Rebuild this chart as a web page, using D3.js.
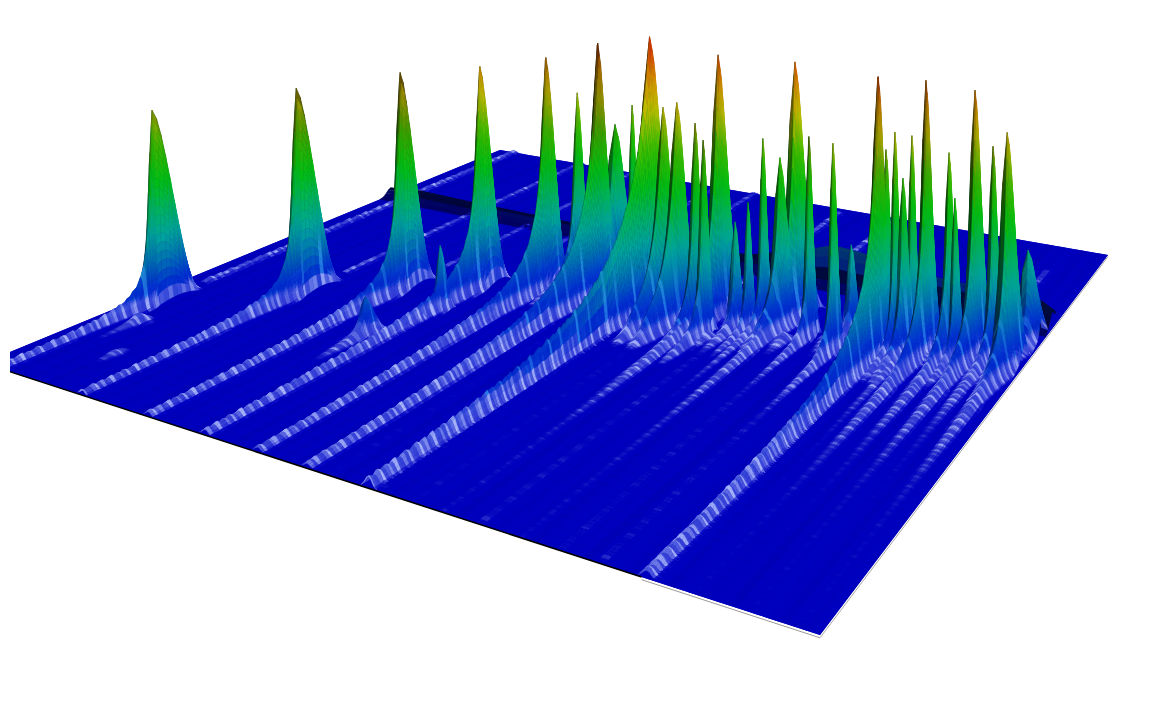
<!DOCTYPE html>
<html><head><meta charset="utf-8">
<style>html,body{margin:0;padding:0;background:#fff}svg{display:block}</style>
<script src="https://cdn.jsdelivr.net/npm/d3@7"></script></head><body>
<svg id="c" width="1158" height="708"></svg>
<script>
// Peaks: first-dimension position, second-dimension position, intensity, front tailing, back fall-off, width, ridge level, tone at the crest
const peakU    =[.03,.16,.259,.339,.41,.473,.548,.634,.72,.845,.89,.94,.982, .43,.46,.50,.58,.60,.63,.65,.70,.69,.675,.715,.76,.80,.80,.85,.86,.875,.87,.915,.925,.96,.985,.313,.342,.0577,.108, .786,.74,.70,.66,.83,.90,.95,.975];
const peakV    =[.215,.328,.409,.469,.513,.536,.537,.553,.589,.539,.573,.597,.58, .556,.601,.576,.512,.51,.50,.482,.54,.52,.516,.556,.538,.514,.57,.551,.553,.568,.552,.58,.57,.6,.655,.2763,.382,.1666,.089, .533,.51,.50,.47,.52,.55,.58,.59];
const peakZ    =[215,233,247,252,262,281,292,281,276,282,277,268,233, 216,174,206,225,233,216,204,200,135,113,178,210,213,94,205,224,219,178,204,161,212,95,40,71,10,4, 9,9,8,8,9,8,8,8];
const peakTail =[.003,.004,.006,.009,.012,.022,.05,.012,.012,.022,.012,.012,.012, .006,.015,.003,.02,.02,.006,.004,.003,.003,.003,.012,.003,.004,.003,.006,.004,.004,.006,.01,.004,.006,.006,.006,.004,.01,.01, .01,.01,.01,.01,.01,.01,.01,.01];
const peakBack =[.071,.072,.06,.05,.04,.035,.04,.04,.04,.028,.028,.03,.035, .025,.03,.016,.03,.03,.018,.018,.016,.014,.014,.03,.016,.016,.014,.016,.016,.016,.016,.016,.016,.016,.04,.03,.02,.025,.025, .02,.02,.02,.02,.02,.02,.02,.02];
const peakWidth=[.007,.008,.008,.008,.008,.01,.016,.011,.012,.008,.007,.008,.01, .007,.016,.005,.011,.012,.007,.006,.005,.005,.007,.01,.005,.005,.007,.006,.005,.005,.007,.006,.005,.006,.012,.009,.006,.008,.008, .008,.008,.008,.008,.008,.008,.008,.008];
const peakRidge=[3.5,3.5,3.5,4,3.5,3,4.5,.8,.8,4.5,.6,.6,.6, 0,0,0,0,0,.4,0,.4,0,0,0,.4,.4,0,.5,0,.5,0,.5,0,.5,0,0,0,0,0, 0,0,0,0,0,0,0,0];
const peakTone =[.8,.55,.5,.95,.75,.5,1,.9,1,.7,.65,.8,.85, .95,.7,.9,.9,.9,.7,.6,.9,1,1,.9,.55,.9,1,.8,.9,.9,.8,.9,.9,.7,1,1,1,1,1, 1,1,1,1,1,1,1,1];
// Low ridges that run on past or between the peaks
const minorU =[.03,.16,.259,.339,.41,.473,.60,.675,.70,.76,.80,.90,.945,.56,.50,.62];
const minorV0=[.30,.42,.50,.60,.60,.65,.0,.0,.62,.0,.0,.64,.70,.0,.0,.62];
const minorV1=[1,1,1,1,1,1,.48,.5,.98,.5,.48,.8,.9,.5,.5,.98];
const minorZ =[3.5,2.5,2,1.8,2,2,.9,1.1,2.5,1.1,1.1,2.5,1.8,.8,.8,2.5];
// Dark bank running across the plate at the far end
const bankU=[0,.05,.15,.3,.4,.5,.6,.68,.72,.78,.85,.92,.97,1];
const bankZ=[10,14,12,11,10,10,14,32,44,40,30,28,34,18];
const bankV=.71;
// Colour ramp against intensity
const rampZ=[0,25,50,75,105,135,175,215,245,270,295];
const rampC=["#0000bc","#0032c4","#006eaa","#009b96","#00aa5a","#00b414","#3cb400","#b4b400","#c88c00","#c85000","#be1e00"];
const streak=[.1,.7,.2,.9,.3,.1,.6,1,.2,.5,.8,.1,.4,.95,.25];
const floorShade=[0,-3,2,-2,3,-4,1,3,-2,0,2,-5,1,-1,3];

const P={x:[-17,820,1108,500],y:[363,635,255,150]};
const sx=P.x[0]-P.x[1]+P.x[2]-P.x[3], sy=P.y[0]-P.y[1]+P.y[2]-P.y[3];
const dx1=P.x[1]-P.x[2], dx2=P.x[3]-P.x[2], dy1=P.y[1]-P.y[2], dy2=P.y[3]-P.y[2];
const det=dx1*dy2-dx2*dy1, g=(sx*dy2-dx2*sy)/det, h=(dx1*sy-sx*dy1)/det;
const a11=P.x[1]-P.x[0]+g*P.x[1], a12=P.x[3]-P.x[0]+h*P.x[3], a21=P.y[1]-P.y[0]+g*P.y[1], a22=P.y[3]-P.y[0]+h*P.y[3];
const uS=d3.scaleLinear([0,1],[0,1]), vS=d3.scaleLinear([0,1],[0,1]), zS=d3.scaleLinear([0,300],[0,300]);
const W=(u,v)=>1+g*uS(u)+h*vS(v);
const proj=(u,v,z)=>{const U=uS(u),V=vS(v),w=W(u,v);return [(a11*U+a12*V+P.x[0])/w,(a21*U+a22*V+P.y[0])/w-zS(z)/w];};
const ramp=d3.scaleLinear().domain(rampZ).range(rampC).clamp(true);
const line=d3.line();
const sstep=(a,b,x)=>{const t=Math.max(0,Math.min(1,(x-a)/(b-a)));return t*t*(3-2*t);};

function quadColor(z,dzu,dzv,st,dark,tone){
  const n=Math.hypot(dzu,dzv,1),nx=-dzu/n,ny=-dzv/n;
  const lowFlank=sstep(0,.9,-nx)*sstep(8,45,z);
  const steepFront=sstep(.985,.9995,-ny)*sstep(60,130,z);
  let sh=dark?dark:(1.0-.62*lowFlank-.3*steepFront+.05*sstep(0,.8,nx));
  sh*=1-(1-tone)*sstep(130,205,z);
  const c=d3.rgb(ramp(z));
  let r=c.r*sh,gg=c.g*sh,b=c.b*sh;
  if(!dark){
    const low=sstep(.5,2.5,z)*(1-sstep(9,20,z));
    const high=sstep(10,20,z)*(1-sstep(40,75,z));
    const m=low*(.28+.62*st*st)+high*sstep(.88,1,st)*.45;
    const tr=z<15?185:70,tg=z<15?198:195,tb=255;
    r+=(tr-r)*m;gg+=(tg-gg)*m;b+=(tb-b)*m;
  }
  return d3.rgb(r,gg,b).formatHex();
}
const quads=[];
function addMesh(us,vs,zf,opt={}){
  const Z=us.map(u=>vs.map(v=>zf(u,v)));
  for(let i=0;i<us.length-1;i++)for(let j=0;j<vs.length-1;j++){
    const z=(Z[i][j]+Z[i+1][j]+Z[i][j+1]+Z[i+1][j+1])/4;
    if(z<.25)continue;
    const dzu=((Z[i+1][j]+Z[i+1][j+1]-Z[i][j]-Z[i][j+1])/2)/((us[i+1]-us[i])*650);
    const dzv=((Z[i][j+1]+Z[i+1][j+1]-Z[i][j]-Z[i+1][j])/2)/((vs[j+1]-vs[j])*700);
    const um=(us[i]+us[i+1])/2,vm=(vs[j]+vs[j+1])/2;
    const st=streak[(Math.round(vm*260)+(opt.seed||0))%streak.length];
    const pts=[proj(us[i],vs[j],Z[i][j]),proj(us[i+1],vs[j],Z[i+1][j]),proj(us[i+1],vs[j+1],Z[i+1][j+1]),proj(us[i],vs[j+1],Z[i][j+1])];
    const tone=opt.tone===undefined?1:(um<=opt.center?opt.tone:1-(1-opt.tone)*.45);
    quads.push({pts,depth:W(um,vm),fill:quadColor(z,dzu,dzv,st,opt.dark&&opt.dark(z),tone)});
  }
}
const uniq=a=>a.filter((u,i)=>u<=1&&(i===0||u>a[i-1]));
peakU.forEach((u0,k)=>{
  const v0=peakV[k],Zp=peakZ[k],tau=peakTail[k],beta=peakBack[k],s0=peakWidth[k],rz=peakRidge[k];
  const tailMax=rz>0?v0:Math.min(v0,Math.max(.03,Math.min(.12,tau*Zp/1.2)));
  const dNear=Math.min(tailMax,.12);
  const sTail=rz>=3?.0058:Math.min(s0,.0058);
  const decay=rz>=3?.3:.12;
  const zAt=(u,v)=>{
    const dv=v-v0,du=u-u0;
    if(dv>=0){
      const t=Math.max(0,1-Math.pow(dv/beta,1.5));
      const s=s0*(1+.4*dv/beta);
      return Zp*Math.pow(t,1.6)*Math.exp(-(du*du)/(s*s));
    }
    const d=-dv,dE=Math.hypot(d,.0022)-.0022;
    const s=s0+(sTail-s0)*Math.min(1,d/.12);
    const rows=streak[Math.round(v*260+k*3)%streak.length];
    const main=Zp/(1+dE/tau)*Math.exp(-d/decay);
    const tailZ=rz>0?main+rz*(.7+.7*rows):main*Math.min(1,(tailMax-d)/(tailMax*.4));
    return Math.max(0,tailZ)*Math.exp(-(du*du)/(s*s));
  };
  const nHigh=Zp>190?20:Zp>60?13:6;
  const high=d3.range(1,nHigh+1).map(i=>u0+s0*Math.sqrt(-Math.log(1-.985*i/nHigh)));
  const usNear=uniq([u0-2.3*s0,u0-1.6*s0,u0-1.0*s0,u0-.5*s0,u0,...high]);
  const near=[0,.0012,.0025,.004,.006,.009,.013,.018,.024];
  const front=near.filter(d=>d<dNear);
  for(let d=.03;d<dNear;d+=.0042)front.push(d);
  front.push(dNear);
  const back=d3.range(1,11).map(i=>beta*i/10);
  addMesh(usNear,[...front.map(d=>v0-d).reverse(),...back.map(d=>v0+d)],zAt,{seed:k*3,tone:peakTone[k],center:u0+.25*s0});
  if(tailMax>dNear+.001){
    const tv=[];for(let d=dNear;d<tailMax;d+=.0042)tv.push(v0-d);tv.push(v0-tailMax);
    addMesh(uniq([-2.3,-1.5,-.9,-.4,0,.4,.8,1.2,1.7,2.3].map(t=>u0+t*sTail)),tv.reverse(),zAt,{seed:k*3});
  }
});
minorU.forEach((u0,k)=>{
  const s=.0055;
  const vs=[];for(let v=minorV0[k];v<minorV1[k];v+=.006)vs.push(v);vs.push(minorV1[k]);
  const us=[-2.2,-1.4,-.7,0,.7,1.4,2.2].map(t=>u0+t*s);
  addMesh(us,vs,(u,v)=>{
    const rows=streak[Math.round(v*167+k*5)%streak.length];
    return minorZ[k]*(.6+.8*rows)*Math.exp(-((u-u0)*(u-u0))/(s*s));
  },{seed:k*5});
});
{
  const bz=d3.scaleLinear().domain(bankU).range(bankZ);
  const us=d3.range(0,1.0001,1/70);
  const vs=[-.035,-.024,-.016,-.01,-.005,0,.005,.01,.016].map(d=>bankV+d);
  addMesh(us,vs,(u,v)=>{
    const d=(v-bankV)/(u>.6?.02:.012);
    return bz(u)*Math.exp(-d*d);
  },{dark:z=>z>24?.62:z>8?.3:.5});
}
quads.sort((a,b)=>b.depth-a.depth);

const svg=d3.select("#c");
svg.append("defs").append("clipPath").attr("id","clip").append("rect").attr("x",10).attr("y",0).attr("width",1148).attr("height",708);
const root=svg.append("g").attr("clip-path","url(#clip)");
const plate=root.append("g");
plate.append("path").attr("d",line([proj(0,0,0),proj(1,0,0),proj(1,1,0),proj(0,1,0)])+"Z").attr("fill","#0000bc");
const nStrip=110;
plate.selectAll(".strip").data(d3.range(nStrip)).join("path").attr("class","strip")
  .attr("d",i=>line([proj(i/nStrip,0,0),proj((i+1)/nStrip,0,0),proj((i+1)/nStrip,1,0),proj(i/nStrip,1,0)])+"Z")
  .attr("fill",i=>d3.rgb(0,0,188+floorShade[i%floorShade.length]).formatHex());
plate.selectAll(".row").data(d3.range(1,60)).join("path").attr("class","row")
  .attr("d",i=>line([proj(0,i/60,0),proj(1,i/60,0)]))
  .attr("fill","none").attr("stroke","#00007a").attr("stroke-opacity",.12).attr("stroke-width",.8);
root.append("g").selectAll("path").data(quads).join("path")
  .attr("d",d=>line(d.pts)+"Z").attr("fill",d=>d.fill).attr("stroke",d=>d.fill).attr("stroke-width",.35);
root.append("path").attr("d",line([proj(0,0,0),proj(.84,0,0)])).attr("fill","none").attr("stroke","#000").attr("stroke-width",1.6);
root.append("path").attr("d",line([proj(.84,0,-2),proj(1,0,-2)])).attr("fill","none").attr("stroke","#9a9a9a").attr("stroke-width",1);
root.append("path").attr("d",line([proj(1,0,-2),proj(1,1,-2)])).attr("fill","none").attr("stroke","#a8a8a8").attr("stroke-width",1);
</script></body></html>
